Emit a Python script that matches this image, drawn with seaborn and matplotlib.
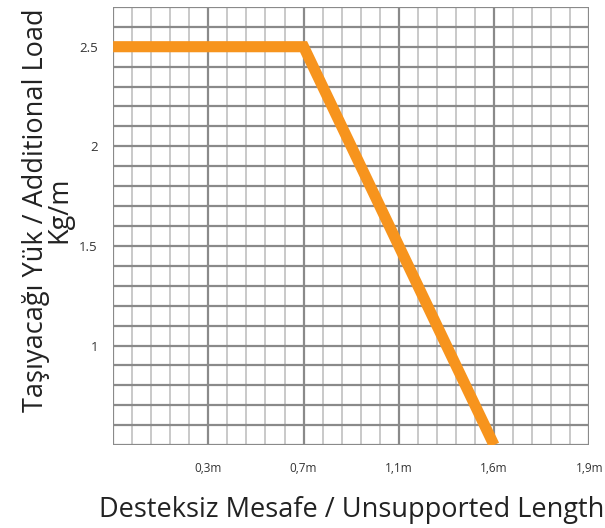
import numpy as np
import pandas as pd
import seaborn as sns
import matplotlib.pyplot as plt
from matplotlib.ticker import MultipleLocator, FixedLocator

# x axis is categorical: equally spaced distance marks
distance_labels = ["0", "0,3m", "0,7m", "1,1m", "1,6m", "1,9m"]
line_distance = ["0", "0,7m", "1,6m"]
line_load = [2.5, 2.5, 0.5]
load_ticks = [1, 1.5, 2, 2.5]

sns.set_theme(style="white")
plt.rcParams['font.family'] = ['Open Sans', 'DejaVu Sans']

df = pd.DataFrame({
    'pos': [distance_labels.index(d) for d in line_distance],
    'load': line_load,
})

fig = plt.figure(figsize=(6.05, 5.28), dpi=100)
ax = fig.add_axes([0.187, 0.157, 0.787, 0.830])

sns.lineplot(data=df, x='pos', y='load', ax=ax, color='#f7941d', lw=8,
             solid_capstyle='butt', solid_joinstyle='miter', zorder=5)

ax.set_xlim(0, len(distance_labels) - 1)
ax.set_ylim(0.5, 2.7)

# grid: dark horizontals every 0.1, dark majors / light minors vertically
yt = np.round(np.arange(0.5, 2.71, 0.1), 2)
ax.xaxis.set_major_locator(FixedLocator(range(len(distance_labels))))
ax.xaxis.set_minor_locator(MultipleLocator(0.2))
ax.yaxis.set_major_locator(FixedLocator(yt))
ax.grid(which='major', axis='both', color='#8a8a8a', lw=1.6)
ax.grid(which='minor', axis='x', color='#c9c9c9', lw=1.4)
ax.set_axisbelow(True)

ax.set_xticklabels([""] + distance_labels[1:], fontsize=8.5, color='#333333')
ylabels = [("%g" % v) if any(abs(v - t) < 1e-6 for t in load_ticks) else ""
           for v in yt]
ax.set_yticklabels(ylabels, fontsize=9.5, color='#333333')
ax.tick_params(axis='both', which='major', length=7, width=1.6, color='#8a8a8a',
               direction='out', pad=4)
ax.tick_params(axis='x', which='minor', length=0)
ax.tick_params(axis='x', pad=5)

for s in ax.spines.values():
    s.set_visible(False)

ax.set_xlabel("Desteksiz Mesafe / Unsupported Length", fontsize=19.5,
              color='#222222', labelpad=15)
ax.set_ylabel("Taşıyacağı Yük / Additional Load\nKg/m", fontsize=19.5,
              color='#222222', linespacing=0.8, va='center', ha='center')
ax.yaxis.set_label_coords(-0.137, 0.537)

fig.savefig("out.png", dpi=100)
